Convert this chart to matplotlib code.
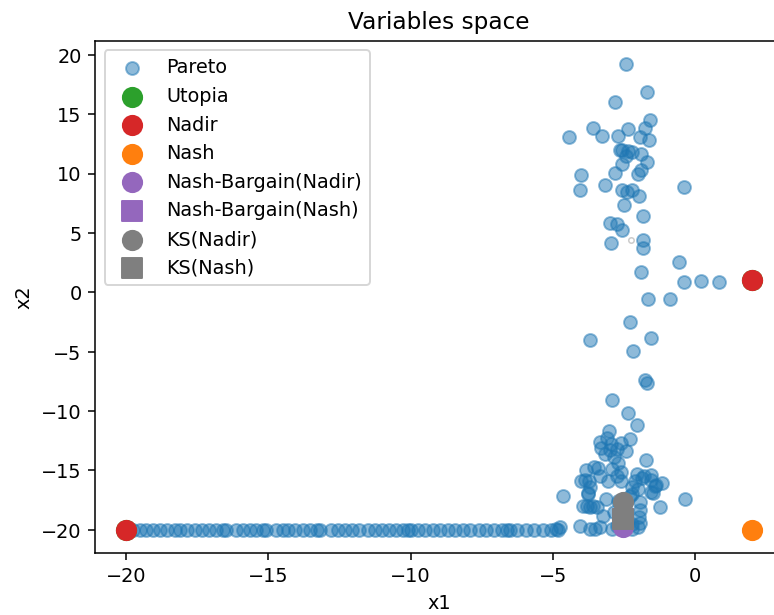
import matplotlib
matplotlib.use('Agg')
import matplotlib.pyplot as plt

# Pareto set in variable space
row_x = [-20.0, -19.75, -19.5, -19.3, -19.05, -18.8, -18.55, -18.3, -18.1, -17.85,
         -17.6, -17.35, -17.1, -16.85, -16.6, -16.5, -16.15, -15.9, -15.65, -15.45,
         -15.2, -15.1, -14.75, -14.5, -14.3, -14.05, -13.8, -13.55, -13.3, -13.2,
         -12.8, -12.55, -12.3, -12.05, -11.8, -11.5, -11.25, -11.0, -10.75, -10.5,
         -10.25, -10.1, -10.0, -9.75, -9.5, -9.2, -8.95, -8.7, -8.45, -8.15,
         -7.9, -7.6, -7.35, -7.05, -6.8, -6.6, -6.5, -6.25, -5.95, -5.65,
         -5.35, -5.05, -4.8]
row_y = [-20.0] * len(row_x)

top_x = [-2.42, -1.69, -2.81, -1.59, -3.60, -1.75, -2.34, -4.43, -3.27, -2.71,
         -1.94, -1.63, -2.64, -2.20, -1.88, -2.43, -2.55, -2.35, -1.70, -2.55,
         -3.99, -2.81, -1.88, -2.00, -4.04, -3.16, -0.38, -2.58, -2.39, -2.20,
         -1.97, -2.51, -1.84, -2.97, -2.74, -2.55, -2.96, -1.84, -1.84, -0.57,
         -1.88, -0.38, 0.21, 0.85, -1.65, -0.87, -2.28, -3.70, -1.54, -2.17,
         -1.75, -1.70, -2.91]
top_y = [19.23, 16.88, 16.04, 14.48, 13.86, 13.81, 13.75, 13.06, 13.14, 13.19,
         13.08, 12.86, 12.02, 11.80, 11.68, 11.46, 11.95, 11.90, 10.93, 10.84,
         9.90, 10.01, 10.29, 9.95, 8.61, 9.06, 8.83, 8.61, 8.41, 8.61,
         8.13, 7.38, 6.40, 5.81, 5.76, 5.28, 4.19, 4.44, 3.69, 2.54,
         1.73, 0.84, 0.95, 0.84, -0.59, -0.59, -2.49, -4.05, -3.85, -4.95,
         -7.38, -7.60, -9.05]

low_x = [-2.35, -2.03, -3.02, -2.29, -3.35, -3.10, -2.95, -3.30, -3.00, -2.75,
         -3.15, -2.60, -2.41, -2.85, -2.70, -2.90, -2.60, -2.75, -3.40, -1.73,
         -3.82, -3.55, -3.85, -3.70, -3.35, -3.05, -2.60, -2.10, -1.85, -1.55,
         -2.20, -2.00, -1.40, -1.55, -2.20, -4.64, -3.76, -3.11, -0.35, -1.21,
         -3.80, -3.60, -3.45, -3.23, -1.94, -1.94, -1.95, -1.94, -2.00, -4.05,
         -3.70, -3.50, -3.35, -4.76, -4.90, -2.90, -2.75, -2.20, -2.20, -2.85,
         -2.70, -2.29, -2.05, -1.80, -1.53, -1.35, -1.17, -1.47, -4.00, -3.72,
         -3.76, -3.94, -3.70]
low_y = [-10.15, -11.20, -11.70, -12.35, -12.60, -12.30, -12.80, -13.10, -13.30, -13.20,
         -13.60, -12.70, -13.40, -13.90, -14.40, -14.90, -15.10, -15.50, -14.80, -14.10,
         -14.93, -14.70, -15.80, -16.40, -15.50, -15.90, -15.90, -15.90, -15.60, -15.80,
         -16.40, -16.60, -16.30, -16.80, -17.00, -17.16, -17.00, -17.38, -17.38, -18.05,
         -18.00, -18.00, -18.10, -18.84, -17.70, -18.30, -18.90, -19.40, -19.80, -19.68,
         -19.90, -19.95, -19.80, -19.80, -19.90, -19.90, -19.70, -19.50, -19.90, -18.50,
         -17.60, -17.16, -15.30, -15.50, -15.40, -16.20, -16.10, -16.90, -15.90, -15.90,
         -16.90, -18.00, -18.10]

pareto_x = row_x + top_x + low_x
pareto_y = row_y + top_y + low_y

# special points
utopia_x, utopia_y = [-20.0, 2.0], [-20.0, 1.0]
nadir_x, nadir_y = [-20.0, 2.0], [-20.0, 1.0]
nash_x, nash_y = [2.0], [-20.0]
nb_nadir_x, nb_nadir_y = [-2.53], [-19.75]
nb_nash_x, nb_nash_y = [-2.53], [-19.1]
ks_nadir_x, ks_nadir_y = [-2.53], [-17.7]
ks_nash_x, ks_nash_y = [-2.53], [-19.1]
extra_x, extra_y = [-2.23], [4.36]

dpi = 138.7
fig = plt.figure(figsize=(774.4 / dpi, 615.4 / dpi), dpi=dpi)
ax = fig.add_axes([95 / 774.4, (615.4 - 553.5) / 615.4, 688 / 774.4, 512.5 / 615.4])

ax.scatter(pareto_x, pareto_y, s=45, alpha=0.5, label='Pareto')
ax.scatter(extra_x, extra_y, s=8, facecolors='none', edgecolors='#cccccc', linewidths=0.8)
ax.scatter(utopia_x, utopia_y, s=100, color='tab:green', label='Utopia')
ax.scatter(nadir_x, nadir_y, s=100, color='tab:red', label='Nadir')
ax.scatter(nash_x, nash_y, s=100, color='tab:orange', label='Nash')
ax.scatter(nb_nadir_x, nb_nadir_y, s=100, color='tab:purple', marker='o', label='Nash-Bargain(Nadir)')
ax.scatter(nb_nash_x, nb_nash_y, s=100, color='tab:purple', marker='s', label='Nash-Bargain(Nash)')
ax.scatter(ks_nadir_x, ks_nadir_y, s=100, color='tab:gray', marker='o', label='KS(Nadir)')
ax.scatter(ks_nash_x, ks_nash_y, s=100, color='tab:gray', marker='s', label='KS(Nash)')

ax.set_title('Variables space')
ax.set_xlabel('x1')
ax.set_ylabel('x2')
ax.legend(loc='upper left')

fig.savefig('out.png', dpi=dpi)
